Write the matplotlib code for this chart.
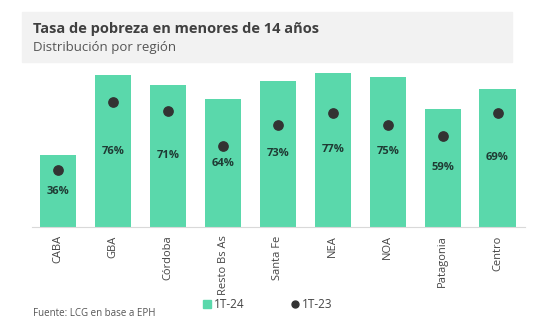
import matplotlib.pyplot as plt
from matplotlib.patches import Rectangle
import numpy as np

regions = ['CABA', 'GBA', 'Córdoba', 'Resto Bs As', 'Santa Fe', 'NEA', 'NOA', 'Patagonia', 'Centro']
pobreza_1t24 = [36, 76, 71, 64, 73, 77, 75, 59, 69]
pobreza_1t23 = [28.5, 62.5, 58, 40.5, 51, 57, 51, 45.5, 57]

bar_color = '#5ad8ab'
dot_color = '#333333'

plt.rcParams['font.family'] = ['Open Sans', 'DejaVu Sans']

fig = plt.figure(figsize=(5.5, 3.3), dpi=100)

# header band
fig.patches.append(Rectangle((22 / 550, 1 - 62 / 330), 490 / 550, 50 / 330,
                             transform=fig.transFigure, color='#f2f2f2', zorder=0))
fig.text(33 / 550, 1 - 29 / 330, 'Tasa de pobreza en menores de 14 años',
         fontsize=10.5, fontweight='bold', color='#404040', va='center')
fig.text(33 / 550, 1 - 48 / 330, 'Distribución por región',
         fontsize=9.5, color='#555555', va='center')

ax = fig.add_axes([32 / 550, 1 - 227 / 330, 493 / 550, 160 / 330])
x = np.arange(len(regions))
bars = ax.bar(x, pobreza_1t24, width=0.66, color=bar_color, label='1T-24', zorder=2)
dots = ax.scatter(x, pobreza_1t23, s=45, color=dot_color, label='1T-23', zorder=3)
for xi, v in zip(x, pobreza_1t24):
    ax.text(xi, v / 2, f'{v}%', ha='center', va='center', fontsize=8,
            fontweight='bold', color='#1f3b34', zorder=4)

ax.set_xlim(-0.48, len(regions) - 0.5)
ax.set_ylim(0, 80)
ax.set_xticks(x)
ax.set_xticklabels(regions, rotation=90, fontsize=8, color='#444444')
ax.tick_params(axis='x', length=0, pad=6)
ax.set_yticks([])
for s in ['top', 'right', 'left']:
    ax.spines[s].set_visible(False)
ax.spines['bottom'].set_color('#d9d9d9')

sq = plt.Line2D([], [], marker='s', linestyle='', color=bar_color, markersize=6)
dt = plt.Line2D([], [], marker='o', linestyle='', color=dot_color, markersize=5)
ax.legend([sq, dt], ['1T-24', '1T-23'], loc='center',
          bbox_to_anchor=(268 / 550, 1 - 305 / 330),
          bbox_transform=fig.transFigure, ncol=2, frameon=False, fontsize=8.5,
          handlelength=0.6, handletextpad=0.3, columnspacing=4.0,
          labelcolor='#444444')

fig.text(33 / 550, 1 - 314 / 330, 'Fuente: LCG en base a EPH', fontsize=7,
         color='#555555', va='center')

fig.savefig('out.png', dpi=100)
